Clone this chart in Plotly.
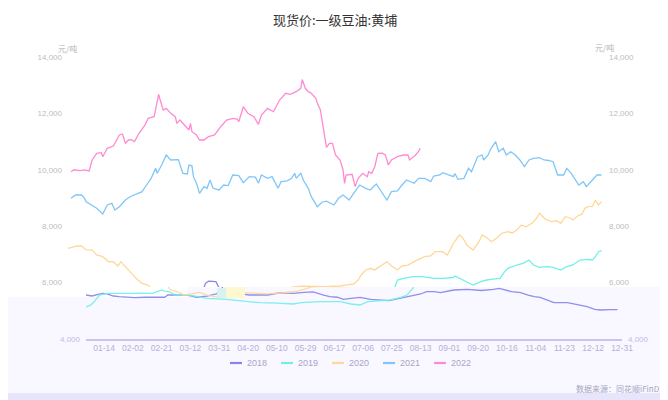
import plotly.graph_objects as go

# The page body has an 8px margin, so the figure is sized to fill the rest of the window
OFF = 8
W, H = 668 - OFF, 400 - OFF


def fx(px):
    return (px - OFF) / W


def fy(py):
    return 1 - (py - OFF) / H


# ---------------- data ----------------
tick_labels = ["01-14", "02-02", "02-21", "03-12", "03-31", "04-20", "05-10", "05-29",
               "06-17", "07-06", "07-25", "08-13", "09-01", "09-20", "10-16", "11-04",
               "11-23", "12-12", "12-31"]
tick_idx = [12 + 19 * k for k in range(len(tick_labels))]
n_days = 354

years = ["2018", "2019", "2020", "2021", "2022"]
colors = ["#8585ea", "#6ff0ea", "#ffd899", "#80c6f8", "#ff8ad2"]

idx_2018 = [0, 4, 8, 11, 14, 18, 22, 26, 32, 39, 46, 52, 54, 60, 67, 73, 80, 86, 89, 91, 93, 96,
            98, 100, 102, 108, 114, 120, 128, 137, 144, 150, 157, 161, 166, 170, 175, 181, 188,
            197, 200, 204, 208, 212, 218, 221, 225, 230, 234, 243, 252, 261, 269, 273, 281, 287,
            292, 296, 300, 305, 309, 318, 322, 327, 331, 336, 340, 346, 351]
val_2018 = [5560, 5525, 5580, 5620, 5600, 5525, 5500, 5480, 5470, 5480, 5480, 5480, 5560, 5560,
            5560, 5480, 5520, 5600, 5680, 5975, 6050, 6040, 6030, 5800, 5600, 5560, 5560, 5560,
            5640, 5620, 5650, 5674, 5560, 5500, 5480, 5404, 5440, 5479, 5404, 5383, 5360, 5404,
            5443, 5500, 5560, 5596, 5677, 5677, 5642, 5738, 5762, 5720, 5762, 5798, 5677, 5642,
            5560, 5500, 5479, 5383, 5287, 5287, 5241, 5206, 5146, 5052, 5028, 5040, 5040]

idx_2019 = [0, 3, 5, 7, 9, 14, 20, 28, 36, 44, 48, 50, 52, 55, 59, 67, 74, 80, 93, 104, 115,
            126, 137, 142, 155, 168, 175, 181, 186, 195, 201, 208, 212, 216, 218, 222, 228, 235,
            242, 248, 255, 256, 259, 264, 268, 273, 277, 281, 286, 288, 291, 297, 301, 305, 308,
            312, 317, 321, 326, 330, 334, 339, 343, 347, 349, 351, 353]
val_2019 = [5135, 5200, 5300, 5420, 5560, 5620, 5610, 5620, 5625, 5620, 5700, 5738, 5700, 5680,
            5560, 5560, 5500, 5443, 5404, 5350, 5287, 5270, 5241, 5287, 5323, 5323, 5241, 5206,
            5323, 5358, 5383, 5479, 5560, 5800, 6092, 6152, 6209, 6209, 6152, 6152, 6180, 6234,
            6152, 6032, 5915, 6032, 6092, 6120, 6152, 6330, 6507, 6624, 6684, 6801, 6624, 6543,
            6564, 6543, 6447, 6564, 6624, 6801, 6826, 6801, 6918, 7096, 7131]

idx_2020 = [0, 3, 6, 9, 12, 16, 19, 23, 27, 30, 33, 35, 39, 42, 45, 49, 53, 56, 60, 65, 70, 75,
            80, 85, 90, 95, 100, 110, 120, 130, 140, 145, 149, 155, 160, 165, 170, 175, 180, 185,
            189, 192, 194, 197, 200, 203, 206, 211, 214, 218, 221, 225, 229, 233, 236, 240, 243,
            248, 251, 255, 259, 261, 264, 268, 272, 274, 277, 280, 283, 287, 291, 294, 297, 300,
            303, 307, 310, 312, 316, 320, 323, 326, 329, 332, 334, 338, 340, 342, 344, 347, 349,
            351, 353]
val_2020 = [7216, 7270, 7300, 7298, 7160, 7150, 6980, 6920, 6740, 6740, 6590, 6740, 6510, 6330,
            6150, 5975, 5915, 5740, 5680, 5560, 5600, 5650, 5560, 5500, 5520, 5600, 5650, 5620,
            5600, 5640, 5700, 5780, 5850, 5870, 5860, 5870, 5855, 5870, 5880, 5920, 5950, 6090,
            6270, 6447, 6507, 6450, 6564, 6741, 6600, 6447, 6589, 6620, 6741, 6826, 6918, 6950,
            7096, 7096, 6979, 7394, 7688, 7600, 7333, 7156, 7450, 7688, 7600, 7450, 7550, 7748,
            7805, 7760, 7865, 8043, 7980, 8101, 8280, 8457, 8244, 8160, 8200, 8101, 8337, 8300,
            8220, 8397, 8420, 8634, 8691, 8700, 8929, 8752, 8869]

idx_2021 = [2, 5, 9, 11, 12, 16, 19, 23, 26, 29, 31, 34, 38, 41, 46, 49, 52, 55, 58, 59, 62, 65,
            68, 71, 73, 76, 79, 80, 82, 83, 85, 87, 90, 92, 94, 96, 100, 103, 106, 109, 113, 116,
            120, 124, 126, 128, 132, 135, 137, 139, 141, 145, 148, 150, 151, 154, 156, 159, 161,
            165, 168, 171, 176, 179, 182, 186, 189, 193, 197, 200, 204, 208, 211, 214, 218, 221,
            224, 229, 232, 236, 240, 242, 246, 248, 252, 255, 256, 258, 262, 265, 267, 271, 274,
            275, 278, 280, 283, 285, 288, 290, 293, 296, 299, 302, 305, 308, 312, 315, 318, 321,
            324, 328, 330, 333, 338, 341, 343, 347, 350, 353]
val_2021 = [8989, 9106, 9106, 8989, 8869, 8752, 8635, 8433, 8752, 8812, 8574, 8692, 8929, 9046,
            9167, 9223, 9461, 9698, 10053, 9876, 10170, 10525, 10348, 10360, 10360, 9876, 9851,
            10170, 10140, 9757, 9521, 9167, 9403, 9344, 9638, 9344, 9284, 9461, 9440, 9816, 9790,
            9543, 9757, 9740, 9521, 9816, 9700, 9757, 9521, 9344, 9580, 9610, 9698, 9876, 9698,
            9876, 9600, 9344, 9046, 8692, 8850, 8889, 8752, 8989, 9106, 8929, 9167, 9461, 9344,
            9284, 9497, 9167, 8929, 9223, 9250, 9461, 9638, 9521, 9698, 9698, 9580, 9780, 9816,
            9898, 9816, 9757, 9870, 9663, 9698, 10053, 9930, 10465, 10525, 10348, 10525, 10762,
            10997, 10642, 10762, 10525, 10640, 10525, 10348, 10110, 10348, 10407, 10430, 10348,
            10330, 10288, 9816, 9816, 10053, 9876, 9461, 9580, 9403, 9638, 9816, 9816]

idx_2022 = [2, 4, 8, 11, 14, 16, 19, 22, 23, 26, 30, 34, 36, 38, 40, 42, 44, 47, 51, 53, 57, 60,
            61, 63, 65, 68, 71, 72, 74, 77, 80, 81, 82, 85, 87, 90, 93, 97, 101, 105, 109, 112,
            113, 116, 119, 123, 126, 128, 132, 136, 140, 144, 147, 151, 154, 155, 157, 159, 161,
            164, 165, 167, 169, 171, 173, 175, 177, 180, 182, 183, 184, 188, 190, 192, 195, 198,
            199, 201, 203, 205, 208, 210, 212, 214, 218, 222, 225, 226, 230, 232, 233]
val_2022 = [9933, 10000, 9970, 10000, 9960, 10350, 10585, 10606, 10465, 10762, 10844, 11234,
            11270, 10940, 11057, 11070, 10997, 11294, 11589, 11826, 11883, 12677, 12475, 12120,
            12180, 12003, 11883, 11648, 11766, 11589, 11411, 11648, 11351, 11234, 11057, 11057,
            11174, 11234, 11528, 11766, 11826, 11800, 11706, 12238, 12003, 11883, 11613, 11943,
            12180, 12060, 12475, 12713, 12677, 12770, 12890, 13200, 12890, 12770, 12713, 12535,
            12357, 12120, 11528, 10797, 10940, 10940, 10525, 10348, 9993, 9521, 9816, 9840, 9403,
            9698, 9876, 9757, 9930, 9876, 10110, 10585, 10590, 10525, 10170, 10348, 10465, 10525,
            10525, 10348, 10525, 10650, 10762]

series_idx = [idx_2018, idx_2019, idx_2020, idx_2021, idx_2022]
series_val = [val_2018, val_2019, val_2020, val_2021, val_2022]

main_ticks = [6000, 8000, 10000, 12000, 14000]
main_tick_text = ["6,000", "8,000", "10,000", "12,000", "14,000"]
low_ticks = [4000]
low_tick_text = ["4,000"]

# ---------------- figure ----------------
FONT = "Liberation Sans, Arial, Noto Sans CJK SC, sans-serif"
CJK = "Noto Sans CJK SC, Liberation Sans, sans-serif"
Y_SPLIT = 287  # px: boundary between main area and the tinted lower band
Y_TOP, Y_BOT = 57, 339
PX_PER_UNIT = (Y_BOT - Y_TOP) / 10000.0
split_val = 14000 - (Y_SPLIT - Y_TOP) / PX_PER_UNIT

fig = go.Figure()

# main layer: left-axis traces (2018-2020) and right-axis traces (2021-2022), same scale
main_axes = ["y", "y", "y", "y3", "y3"]
band_axes = ["y2", "y2", "y2", "y4", "y4"]
for name, xs, ys, c, ya in zip(years, series_idx, series_val, colors, main_axes):
    fig.add_trace(go.Scatter(x=xs, y=ys, mode="lines", name=name, xaxis="x", yaxis=ya,
                             line=dict(color=c, width=1.3), showlegend=False, hoverinfo="skip"))
# lower tinted band layer (shifted copy)
for name, xs, ys, c, ya in zip(years, series_idx, series_val, colors, band_axes):
    fig.add_trace(go.Scatter(x=xs, y=ys, mode="lines", name=name, xaxis="x2", yaxis=ya,
                             line=dict(color=c, width=1.3), opacity=0.9,
                             showlegend=False, hoverinfo="skip"))

axis_common = dict(showgrid=False, zeroline=False, ticks="", automargin=False, fixedrange=True)

shapes = [
    dict(type="rect", xref="paper", yref="paper", x0=fx(8), x1=fx(187), y0=fy(393), y1=fy(297),
         fillcolor="#f9f7ff", line=dict(width=0), layer="below"),
    dict(type="rect", xref="paper", yref="paper", x0=fx(187), x1=fx(662), y0=fy(393), y1=fy(Y_SPLIT),
         fillcolor="#f9f7ff", line=dict(width=0), layer="below"),
    dict(type="rect", xref="paper", yref="paper", x0=fx(8), x1=fx(662), y0=fy(400), y1=fy(393),
         fillcolor="#e7e5fb", line=dict(width=0), layer="below"),
    dict(type="rect", xref="paper", yref="paper", x0=fx(226), x1=fx(245), y0=fy(298), y1=fy(287),
         fillcolor="#fff7cf", line=dict(width=0), layer="above"),
    dict(type="rect", xref="paper", yref="paper", x0=fx(217), x1=fx(226), y0=fy(298), y1=fy(288),
         fillcolor="#d8f2f0", line=dict(width=0), layer="above"),
]

annotations = [
    dict(text="现货价:一级豆油:黄埔", x=fx(335), y=fy(9), xref="paper", yref="paper",
         showarrow=False, xanchor="center", yanchor="top", borderpad=0,
         font=dict(family=CJK, size=13, color="#333333")),
    dict(text="元/吨", x=fx(67), y=fy(48), xref="paper", yref="paper", showarrow=False,
         xanchor="center", yanchor="middle", font=dict(family=CJK, size=8, color="#b5b5b5")),
    dict(text="元/吨", x=fx(604), y=fy(47), xref="paper", yref="paper", showarrow=False,
         xanchor="center", yanchor="middle", font=dict(family=CJK, size=8, color="#b5b5b5")),
    dict(text="数据来源：同花顺iFinD", x=fx(662), y=fy(388), xref="paper", yref="paper",
         showarrow=False, xanchor="right", yanchor="middle",
         font=dict(family=CJK, size=8, color="#a6a4c2")),
]

# custom legend
leg_x = [230, 281, 332, 383, 434]
for name, c, lx in zip(years, colors, leg_x):
    shapes.append(dict(type="line", xref="paper", yref="paper", x0=fx(lx), x1=fx(lx + 12),
                       y0=fy(363), y1=fy(363), line=dict(color=c, width=2.2)))
    annotations.append(dict(text=name, x=fx(lx + 15), y=fy(363), xref="paper", yref="paper",
                            showarrow=False, xanchor="left", yanchor="middle",
                            font=dict(family=FONT, size=9, color="#a9a5cb")))

main_tickfont = dict(family=FONT, size=8, color="#bdbdbd")
low_tickfont = dict(family=FONT, size=8, color="#c2bde6")

fig.update_layout(
    template="none",
    width=W, height=H, autosize=False,
    margin=dict(l=0, r=0, t=0, b=0, pad=0),
    paper_bgcolor="white", plot_bgcolor="rgba(0,0,0,0)",
    font=dict(family=FONT),
    showlegend=False,
    xaxis=dict(domain=[fx(68), fx(603)], range=[0, n_days], showticklabels=False,
               showline=False, anchor="y", **axis_common),
    yaxis=dict(domain=[fy(Y_SPLIT), fy(Y_TOP)], range=[split_val, 14000], anchor="x",
               tickvals=main_ticks, ticktext=main_tick_text, ticklabelstandoff=5,
               tickfont=main_tickfont, showline=False, **axis_common),
    yaxis3=dict(overlaying="y", side="right", anchor="x", range=[split_val, 14000],
                tickvals=main_ticks, ticktext=main_tick_text, ticklabelstandoff=5,
                tickfont=main_tickfont, showline=False, **axis_common),
    xaxis2=dict(domain=[fx(86), fx(622)], range=[0, n_days], anchor="y2",
                tickvals=tick_idx, ticktext=tick_labels, showline=True, linecolor="#c9c3f1",
                linewidth=1.5, tickfont=dict(family=FONT, size=8.5, color="#b5b1da"),
                **axis_common),
    yaxis2=dict(domain=[fy(Y_BOT), fy(Y_SPLIT)], range=[4000, split_val], anchor="x2",
                tickvals=low_ticks, ticktext=low_tick_text, ticklabelstandoff=5,
                tickfont=low_tickfont, showline=False, **axis_common),
    yaxis4=dict(overlaying="y2", side="right", anchor="x2", range=[4000, split_val],
                tickvals=low_ticks, ticktext=low_tick_text, ticklabelstandoff=5,
                tickfont=low_tickfont, showline=False, **axis_common),
    shapes=shapes,
    annotations=annotations,
)

fig.write_html("out.html", config={"displayModeBar": False})
